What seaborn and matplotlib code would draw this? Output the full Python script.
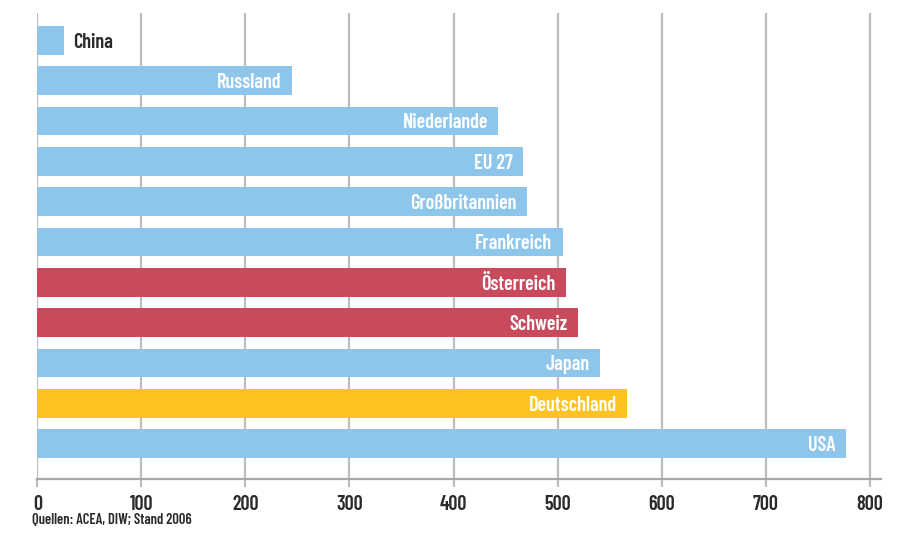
import matplotlib
matplotlib.use("Agg")
import matplotlib.pyplot as plt
import seaborn as sns
import pandas as pd

countries = ["China", "Russland", "Niederlande", "EU 27", "Großbritannien",
             "Frankreich", "Österreich", "Schweiz", "Japan", "Deutschland", "USA"]
values = [26, 245, 443, 467, 471, 505, 508, 520, 541, 567, 777]
groups = ["other", "other", "other", "other", "other", "other",
          "alpine", "alpine", "other", "germany", "other"]
x_ticks = [0, 100, 200, 300, 400, 500, 600, 700, 800]
source = "Quellen: ACEA, DIW; Stand 2006"

palette = {"other": "#8EC5EA", "alpine": "#C84A5C", "germany": "#FEC320"}

sns.set_theme(style="white")
plt.rcParams["font.family"] = ["Barlow Condensed", "DejaVu Sans"]

df = pd.DataFrame({"land": countries, "wert": values, "gruppe": groups})

fig = plt.figure(figsize=(9.15, 5.33), dpi=100)
ax = fig.add_axes([0.0408, 0.1013, 0.9222, 0.8743])

sns.barplot(data=df, x="wert", y="land", hue="gruppe", palette=palette,
            dodge=False, legend=False, width=0.71, saturation=1,
            linewidth=0, ax=ax, zorder=2)

ax.set_xlim(0, 811)
ax.set_ylim(10.88, -0.675)
ax.set_xticks(x_ticks)
ax.set_xticklabels([str(t) for t in x_ticks], fontsize=14.5,
                   fontweight=600, color="#2a2a2a")
ax.set_yticks([])
ax.set_xlabel("")
ax.set_ylabel("")

ax.grid(axis="x", color="#BDBDBD", linewidth=1.6, zorder=0)
ax.set_axisbelow(True)
for side in ["top", "right", "left"]:
    ax.spines[side].set_visible(False)
ax.spines["bottom"].set_color("#A8A8A8")
ax.spines["bottom"].set_linewidth(1.6)
ax.tick_params(axis="x", bottom=True, length=6, width=1.6,
               color="#BDBDBD", pad=5.5)

for i, (name, v) in enumerate(zip(countries, values)):
    if v < 100:
        ax.annotate(name, xy=(v, i), xytext=(6.5, 0), textcoords="offset points",
                    ha="left", va="center_baseline", fontsize=14.5,
                    fontweight=600, color="#2a2a2a")
    else:
        ax.annotate(name, xy=(v, i), xytext=(-7.5, 0), textcoords="offset points",
                    ha="right", va="center_baseline", fontsize=14.5,
                    fontweight=600, color="white")

fig.text(0.035, 0.012, source, fontsize=10.5, fontweight=600,
         color="#2a2a2a", ha="left", va="bottom")

fig.savefig("out.png", dpi=100)
